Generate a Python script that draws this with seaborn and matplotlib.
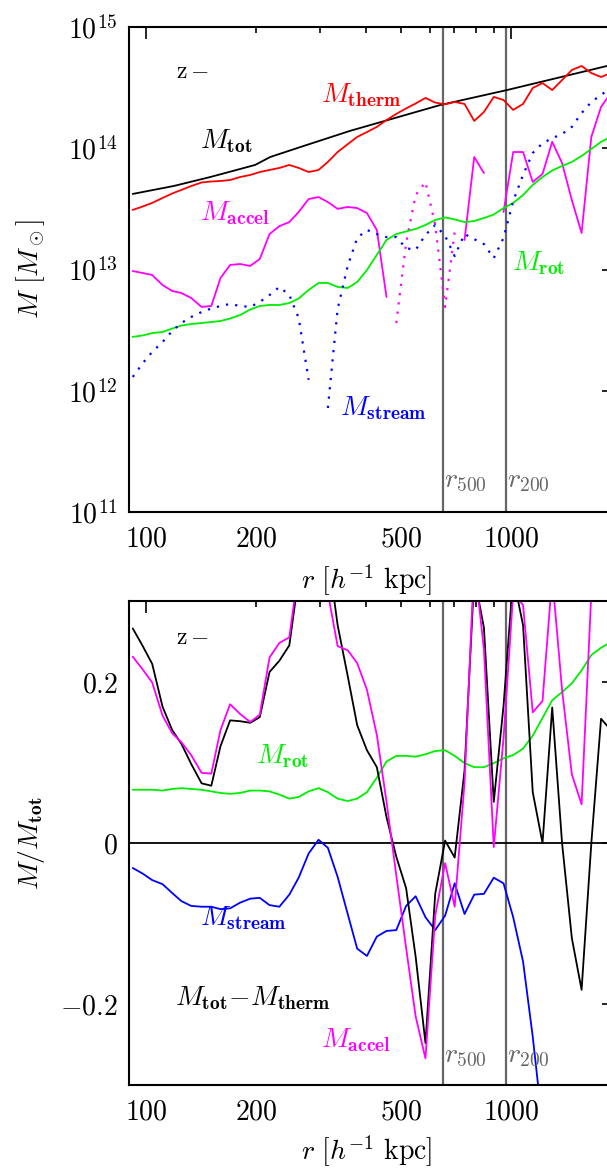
import numpy as np
import pandas as pd
import matplotlib
matplotlib.use('Agg')
import matplotlib.pyplot as plt
import seaborn as sns
from matplotlib.ticker import FixedLocator, FixedFormatter, NullFormatter

# ---------------- data ----------------
# radius grid [h^-1 kpc]
r = [92, 98, 104, 111, 118, 125, 133, 142, 151, 160,
     170, 181, 193, 205, 218, 232, 247, 262, 279, 297,
     315, 335, 357, 379, 403, 429, 456, 485, 516, 548,
     583, 620, 660, 701, 746, 793, 843, 897, 954, 1014,
     1079, 1147, 1220, 1297, 1380, 1468, 1561, 1660, 1765, 1877]

# total mass (smooth profile, own radii) [1e13 Msun]
r_tot = [92, 119, 150, 199, 219, 264, 362, 639, 975, 1832]
m_tot = [4.20, 4.88, 5.79, 7.28, 8.47, 10.2, 13.9, 22.7, 30.2, 47.7]

# [1e13 Msun]; negative values are drawn dotted as |M|
m_therm = [3.10, 3.31, 3.54, 3.89, 4.24, 4.53, 4.88, 5.22, 5.32, 5.37,
           5.47, 5.79, 6.02, 6.37, 6.62, 6.88, 7.28, 6.88, 6.37, 6.62,
           7.71, 9.31, 10.8, 12.4, 13.6, 15.0, 17.1, 19.2, 21.3, 23.4,
           26.0, 23.8, 23.0, 24.1, 23.2, 16.8, 19.9, 26.5, 25.0, 20.7,
           23.2, 31.4, 34.5, 30.2, 36.5, 44.2, 47.7, 41.7, 38.7, 41.7]
m_accel = [0.972, 0.935, 0.901, 0.745, 0.665, 0.640, 0.582, 0.491, 0.500, 0.851,
           1.09, 1.11, 1.07, 1.22, 1.96, 2.28, 2.46, 2.98, 3.81, 3.96,
           3.60, 3.16, 3.28, 3.21, 2.92, 2.12, 0.593, -0.362, -1.65, -4.11,
           -5.27, -2.33, -0.491, -2.04, 1.75, 8.47, 6.25, -0.15, 2.98, 9.31,
           9.31, 5.27, 6.14, 11.3, 7.56, 3.74, 2.00, 12.4, 21.9, 28.6]
m_rot = [0.278, 0.286, 0.299, 0.305, 0.326, 0.345, 0.355, 0.362, 0.369, 0.376,
         0.394, 0.421, 0.468, 0.500, 0.510, 0.510, 0.529, 0.576, 0.678, 0.774,
         0.774, 0.718, 0.704, 0.788, 0.991, 1.32, 1.75, 1.96, 2.06, 2.16,
         2.33, 2.56, 2.69, 2.59, 2.46, 2.51, 2.66, 2.84, 3.21, 3.54,
         4.11, 4.98, 5.79, 6.56, 7.14, 7.71, 8.63, 9.86, 11.3, 12.4]
m_stream = [-0.130, -0.169, -0.209, -0.252, -0.311, -0.362, -0.406, -0.446, -0.477, -0.500,
            -0.520, -0.500, -0.491, -0.540, -0.616, -0.718, -0.616, -0.398, -0.123, 0.05,
            -0.0721, -0.472, -1.07, -1.82, -2.12, -1.96, -1.85, -1.85, -1.50, -1.45,
            -1.93, -2.33, -1.89, -1.29, -1.96, -1.78, -1.62, -1.24, -1.82, -3.67,
            -6.02, -9.14, -11.0, -12.1, -13.1, -15.0, -19.5, -24.1, -27.5, -31.4]

# ratios M / M_tot (lower panel)
f_diff = [0.266, 0.244, 0.222, 0.169, 0.140, 0.123, 0.098, 0.074, 0.071, 0.120,
          0.152, 0.151, 0.149, 0.156, 0.212, 0.226, 0.245, 0.33, 0.41, 0.43,
          0.36, 0.27, 0.207, 0.146, 0.115, 0.094, 0.032, -0.017, -0.056, -0.141,
          -0.248, -0.063, 0.003, -0.018, 0.09, 0.33, 0.267, 0.051, 0.17, 0.33,
          0.27, 0.063, 0.0, 0.168, 0.0, -0.118, -0.182, 0.0, 0.154, 0.14]
f_accel = [0.231, 0.215, 0.199, 0.158, 0.136, 0.125, 0.109, 0.087, 0.086, 0.14,
           0.172, 0.16, 0.15, 0.159, 0.23, 0.248, 0.255, 0.34, 0.36, 0.35,
           0.31, 0.244, 0.239, 0.223, 0.19, 0.134, 0.051, -0.04, -0.13, -0.215,
           -0.267, -0.09, -0.025, -0.079, 0.075, 0.35, 0.24, -0.005, 0.13, 0.31,
           0.295, 0.162, 0.176, 0.33, 0.19, 0.085, 0.048, 0.31, 0.5, 0.6]
f_rot = [0.066, 0.066, 0.066, 0.065, 0.067, 0.068, 0.067, 0.066, 0.064, 0.062,
         0.061, 0.062, 0.065, 0.065, 0.064, 0.060, 0.055, 0.057, 0.064, 0.068,
         0.063, 0.055, 0.052, 0.055, 0.063, 0.081, 0.101, 0.108, 0.108, 0.107,
         0.110, 0.114, 0.115, 0.108, 0.099, 0.094, 0.094, 0.099, 0.105, 0.109,
         0.117, 0.133, 0.155, 0.177, 0.187, 0.198, 0.214, 0.233, 0.242, 0.249]
f_stream = [-0.031, -0.038, -0.046, -0.051, -0.062, -0.072, -0.078, -0.079, -0.079, -0.082,
            -0.081, -0.074, -0.069, -0.068, -0.077, -0.079, -0.064, -0.043, -0.013, 0.004,
            -0.006, -0.042, -0.088, -0.131, -0.140, -0.116, -0.109, -0.108, -0.078, -0.066,
            -0.092, -0.108, -0.090, -0.050, -0.088, -0.064, -0.063, -0.043, -0.050, -0.092,
            -0.147, -0.24, -0.35, -0.40, -0.45, -0.50, -0.55, -0.60, -0.65, -0.70]

r500 = 651
r200 = 968
MUNIT = 1e13

# ---------------- style ----------------
sns.set_theme(style='white')
plt.rcParams['font.family'] = ['DejaVu Serif', 'DejaVu Sans']
plt.rcParams['mathtext.fontset'] = 'cm'

RED = '#ff0000'
MAG = '#ff00ff'
GRN = '#00ee00'
BLU = '#0000ff'
GRY = '#666666'
LW = 1.3
DOT = (0, (1, 3.2))

W, H = 607, 1173
RIGHT_PX = 614  # right spine lies just beyond the picture edge
fig = plt.figure(figsize=(W / 100, H / 100), dpi=100)
ax1 = fig.add_axes([129 / W, 1 - 512 / H, (RIGHT_PX - 129) / W, 485 / H])
ax2 = fig.add_axes([129 / W, 1 - 1085 / H, (RIGHT_PX - 129) / W, 484 / H])


def runs(vals):
    s = np.sign(vals)
    out = []
    start = 0
    n = len(vals)
    for i in range(1, n + 1):
        if i == n or s[i] != s[start]:
            if i - start >= 2:
                out.append((start, i, s[start]))
            start = i
    return out


def seg_plot(ax, x, v, color, scale=1.0):
    v = np.asarray(v, dtype=float) * scale
    x = np.asarray(x, dtype=float)
    frames = {1: [], -1: []}
    for k, (a, b, sg) in enumerate(runs(v)):
        frames[int(sg)].append(pd.DataFrame({'r': x[a:b], 'm': np.abs(v[a:b]), 'seg': k}))
    for sg, ls in ((1, '-'), (-1, DOT)):
        if frames[sg]:
            df = pd.concat(frames[sg], ignore_index=True)
            sns.lineplot(data=df, x='r', y='m', units='seg', estimator=None, sort=False,
                         color=color, lw=LW if sg > 0 else 1.6, linestyle=ls, ax=ax, legend=False)


ax1.set_xscale('log')
ax1.set_yscale('log')
ax2.set_xscale('log')

# ---------------- top panel ----------------
sns.lineplot(x=np.array(r_tot, float), y=np.array(m_tot) * MUNIT, color='black', lw=LW, ax=ax1,
             sort=False, estimator=None)
seg_plot(ax1, r, m_therm, RED, MUNIT)
seg_plot(ax1, r, m_accel, MAG, MUNIT)
seg_plot(ax1, r, m_rot, GRN, MUNIT)
seg_plot(ax1, r, m_stream, BLU, MUNIT)

# ---------------- bottom panel ----------------
ax2.axhline(0, color='black', lw=1.3, zorder=1)
for arr, col in ((f_rot, GRN), (f_stream, BLU), (f_diff, 'black'), (f_accel, MAG)):
    sns.lineplot(x=np.array(r, float), y=np.array(arr, float), color=col, lw=LW, ax=ax2,
                 sort=False, estimator=None)

XMIN = 89.84
XMAX = 10 ** (2 + (RIGHT_PX - 146) / 365.0)
for ax in (ax1, ax2):
    ax.axvline(r500, color=GRY, lw=1.6, zorder=0.5)
    ax.axvline(r200, color=GRY, lw=1.6, zorder=0.5)
    ax.set_xlim(XMIN, XMAX)
    ax.xaxis.set_major_locator(FixedLocator([100, 1000]))
    ax.xaxis.set_major_formatter(FixedFormatter([r'$100$', r'$1000$']))
    ax.xaxis.set_minor_locator(FixedLocator([200, 300, 400, 500, 600, 700, 800, 900]))
    ax.xaxis.set_minor_formatter(FixedFormatter([r'$200$', '', '', r'$500$', '', '', '', '']))
    ax.tick_params(which='both', direction='in', top=True, right=True, width=1.2,
                   color='black', labelsize=20, labelcolor='black')
    ax.tick_params(axis='x', which='both', pad=10)
    ax.tick_params(axis='y', which='both', pad=8)
    ax.tick_params(which='major', length=8.6)
    ax.tick_params(which='minor', length=4.5)
    for sp in ax.spines.values():
        sp.set_color('black')
        sp.set_linewidth(1.5)
    ax.set_xlabel(r'$r\ [h^{-1}\ \mathrm{kpc}]$', fontsize=20, color='black')
    ax.grid(False)

ax1.set_ylim(1e11, 1e15)
ax1.yaxis.set_major_locator(FixedLocator([1e11, 1e12, 1e13, 1e14, 1e15]))
ax1.yaxis.set_major_formatter(FixedFormatter([r'$10^{11}$', r'$10^{12}$', r'$10^{13}$',
                                              r'$10^{14}$', r'$10^{15}$']))
ax1.yaxis.set_minor_locator(FixedLocator([m * 10.0 ** e for e in range(11, 15) for m in range(2, 10)]))
ax1.yaxis.set_minor_formatter(NullFormatter())
ax1.set_ylabel(r'$M\ [M_\odot]$', fontsize=20, color='black')
ax1.yaxis.set_label_coords(-0.17, 0.5)
ax1.xaxis.set_label_coords(0.49, -0.105)

ax2.set_ylim(-0.3, 0.3)
ax2.yaxis.set_major_locator(FixedLocator([-0.2, 0.0, 0.2]))
ax2.yaxis.set_major_formatter(FixedFormatter([r'$-0.2$', r'$0$', r'$0.2$']))
ax2.yaxis.set_minor_locator(FixedLocator([-0.1, 0.1]))
ax2.yaxis.set_minor_formatter(NullFormatter())
ax2.tick_params(axis='y', which='minor', length=4.5)
ax2.set_ylabel(r'$M/M_{\mathbf{tot}}$', fontsize=20, color='black')
ax2.yaxis.set_label_coords(-0.17, 0.5)
ax2.xaxis.set_label_coords(0.49, -0.1)

# ---------------- annotations ----------------
FS = 20
ax1.text(0.097, 0.909, r'$\mathrm{z}-$', transform=ax1.transAxes, fontsize=17, va='center', color='black')
ax1.text(0.395, 0.845, r'$M_{\mathbf{therm}}$', transform=ax1.transAxes, fontsize=FS, color=RED, va='baseline')
ax1.text(0.146, 0.7505, r'$M_{\mathbf{tot}}$', transform=ax1.transAxes, fontsize=FS, color='black', va='baseline')
ax1.text(0.146, 0.602, r'$M_{\mathbf{accel}}$', transform=ax1.transAxes, fontsize=FS, color=MAG, va='baseline')
ax1.text(0.79, 0.499, r'$M_{\mathbf{rot}}$', transform=ax1.transAxes, fontsize=FS, color=GRN, va='baseline')
ax1.text(0.435, 0.20, r'$M_{\mathbf{stream}}$', transform=ax1.transAxes, fontsize=FS, color=BLU, va='baseline')
ax1.text(0.65, 0.0515, r'$r_{500}$', transform=ax1.transAxes, fontsize=FS, color=GRY, va='baseline')
ax1.text(0.78, 0.0515, r'$r_{200}$', transform=ax1.transAxes, fontsize=FS, color=GRY, va='baseline')

ax2.text(0.097, 0.9256, r'$\mathrm{z}-$', transform=ax2.transAxes, fontsize=17, va='center', color='black')
ax2.text(0.262, 0.665, r'$M_{\mathbf{rot}}$', transform=ax2.transAxes, fontsize=FS, color=GRN, va='baseline')
ax2.text(0.146, 0.3306, r'$M_{\mathbf{stream}}$', transform=ax2.transAxes, fontsize=FS, color=BLU, va='baseline')
ax2.text(0.095, 0.1653, r'$M_{\mathbf{tot}}{-}M_{\mathbf{therm}}$', transform=ax2.transAxes, fontsize=FS,
         color='black', va='baseline')
ax2.text(0.396, 0.0785, r'$M_{\mathbf{accel}}$', transform=ax2.transAxes, fontsize=FS, color=MAG, va='baseline')
ax2.text(0.65, 0.0475, r'$r_{500}$', transform=ax2.transAxes, fontsize=FS, color=GRY, va='baseline')
ax2.text(0.78, 0.0475, r'$r_{200}$', transform=ax2.transAxes, fontsize=FS, color=GRY, va='baseline')

fig.savefig('out.png', dpi=100)
